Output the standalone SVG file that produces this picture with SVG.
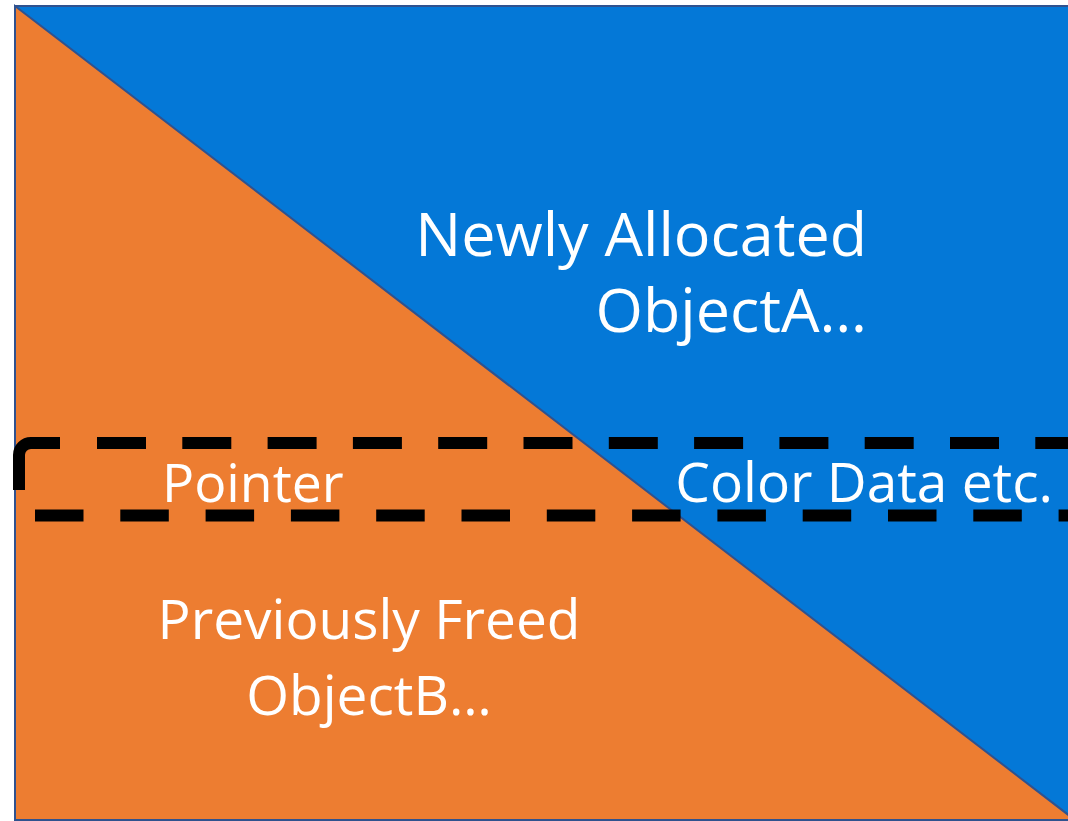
<svg xmlns="http://www.w3.org/2000/svg" width="1068" height="821" viewBox="0 0 1068 821">
<style>
.lbl{font-family:"Open Sans","Noto Sans","Liberation Sans",sans-serif;fill:#FFFFFF;}
.dash{fill:none;stroke:#000000;stroke-width:12;stroke-linecap:butt;}
</style>
<rect x="0" y="0" width="1068" height="821" fill="#FFFFFF"/>
<g id="newly-allocated">
<rect x="15" y="6" width="1060" height="814" fill="#0478D7" stroke="#2F528F" stroke-width="2"/>
<text class="lbl" x="867" y="256" font-size="61" text-anchor="end">Newly Allocated</text>
<text class="lbl" x="867" y="332" font-size="61" text-anchor="end">ObjectA…</text>
<text class="lbl" x="1053" y="502" font-size="55" text-anchor="end">Color Data etc.</text>
</g>
<g id="previously-freed">
<polygon points="15,6 15,820 1075,820" fill="#ED7D31" stroke="#2F528F" stroke-width="2" stroke-linejoin="miter"/>
<text class="lbl" x="369" y="639" font-size="55" text-anchor="middle">Previously Freed</text>
<text class="lbl" x="369" y="715" font-size="55" text-anchor="middle">ObjectB…</text>
<text class="lbl" x="162" y="502" font-size="53.5">Pointer</text>
</g>
<g id="connectors">
<path class="dash" d="M19,490 V455 A12,12 0 0 1 31,443 H60"/>
<path class="dash" d="M97,443 H1100" stroke-dasharray="49 36.3"/>
<path class="dash" d="M35,515.5 H1100" stroke-dasharray="48.5 36.8"/>
</g>
</svg>
